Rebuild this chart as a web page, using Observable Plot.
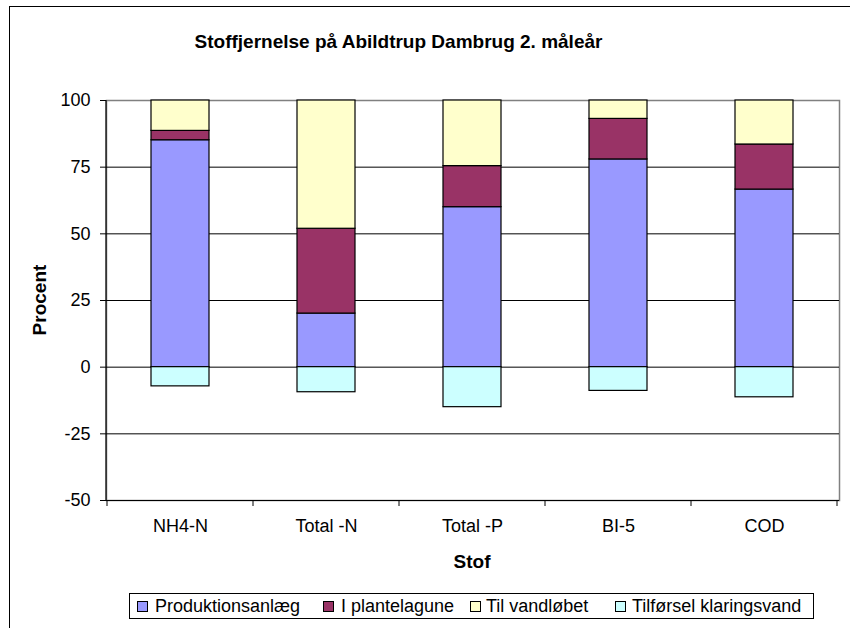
<!DOCTYPE html>
<html>
<head>
<meta charset="utf-8">
<script src="https://cdn.jsdelivr.net/npm/d3@7"></script>
<script src="https://cdn.jsdelivr.net/npm/@observablehq/plot@0.6"></script>
<style>
  html, body { margin: 0; padding: 0; background: #fff; }
  body { width: 850px; height: 628px; position: relative; overflow: hidden; font-family: "Liberation Sans", Arial, sans-serif; }
  #frame { position: absolute; left: 9px; top: 6px; width: 900px; height: 700px; border-left: 1px solid #000; border-top: 1px solid #000; }
  #title { position: absolute; left: 0; width: 797px; top: 31px; line-height: 22px; text-align: center; font-weight: bold; font-size: 19px; color: #000; }
  #ylabel { position: absolute; left: 40px; top: 300px; transform: translate(-50%, -50%) rotate(-90deg); font-weight: bold; font-size: 19px; white-space: nowrap; }
  #xlabel { position: absolute; left: 472px; top: 562px; transform: translate(-50%, -50%); font-weight: bold; font-size: 19px; white-space: nowrap; }
  #chart { position: absolute; left: 0; top: 0; }
  #legend { position: absolute; left: 129px; top: 593px; width: 685px; height: 26px; border: 1px solid #000; box-sizing: border-box; }
  .item { position: absolute; top: 0; height: 24px; font-size: 18px; line-height: 24px; white-space: nowrap; }
  .sw { position: absolute; top: 7px; width: 11px; height: 11px; border: 1px solid #000; box-sizing: border-box; }
</style>
</head>
<body>
<div id="frame"></div>
<div id="chart"></div>
<div id="title">Stoffjernelse på Abildtrup Dambrug 2. måleår</div>
<div id="ylabel">Procent</div>
<div id="xlabel">Stof</div>
<div id="legend"></div>
<script>
const stof = ["NH4-N", "Total -N", "Total -P", "BI-5", "COD"];
const serier = ["Produktionsanlæg", "I plantelagune", "Til vandløbet", "Tilførsel klaringsvand"];
const produktionsanlaeg = [85.1, 20.1, 60.0, 77.9, 66.6];
const plantelagune = [3.5, 31.8, 15.4, 15.2, 16.9];
const vandloebet = [11.4, 48.1, 24.6, 6.9, 16.5];
const tilfoersel = [-7.2, -9.4, -15.0, -8.9, -11.3];
const yTicks = [-50, -25, 0, 25, 50, 75, 100];
const farver = ["#9999FF", "#993366", "#FFFFCC", "#CCFFFF"];

const seriesValues = [produktionsanlaeg, plantelagune, vandloebet, tilfoersel];
const data = [];
stof.forEach((s, i) => {
  serier.forEach((serie, j) => {
    data.push({stof: s, serie, value: seriesValues[j][i]});
  });
});

const font = "Liberation Sans, Arial, sans-serif";
const plot = Plot.plot({
  width: 850,
  height: 580,
  marginTop: 100,
  marginBottom: 80,
  marginLeft: 106,
  marginRight: 11,
  style: {fontFamily: font, fontSize: "18px", color: "#000", background: "transparent", overflow: "visible"},
  x: {domain: stof, paddingInner: 0.6, paddingOuter: 0.3, label: null},
  y: {domain: [-50, 100], label: null},
  color: {domain: serier, range: farver},
  marks: [
    Plot.frame({stroke: "#808080", strokeWidth: 1.5}),
    Plot.ruleY(yTicks.filter(t => t < 100), {stroke: "#000", strokeWidth: 1}),
    Plot.barY(data, {x: "stof", y: "value", fill: "serie", stroke: "#000", strokeWidth: 1.2}),
    Plot.axisY({ticks: yTicks, tickFormat: d => String(d), tickSize: 6, tickPadding: 10, fontSize: 18, label: null, stroke: "#000"}),
    Plot.axisX({tickSize: 0, tickPadding: 19, fontSize: 18, label: null})
  ]
});
document.getElementById("chart").appendChild(plot);

// Category boundary ticks and left axis line, placed with the plot's own x/y scales
const xs = plot.scale("x");
const ys = plot.scale("y");
const svg = d3.select(plot);
const half = (xs.step - xs.bandwidth) / 2;
const bounds = stof.map(s => xs.apply(s) - half).concat([xs.apply(stof[stof.length - 1]) + xs.bandwidth + half]);
const yBottom = ys.apply(-50), yTop = ys.apply(100);
svg.append("g").selectAll("line").data(bounds).join("line")
  .attr("x1", d => d).attr("x2", d => d)
  .attr("y1", yBottom).attr("y2", yBottom + 6)
  .attr("stroke", "#000").attr("stroke-width", 1);
svg.append("line")
  .attr("x1", xs.range[0]).attr("x2", xs.range[0])
  .attr("y1", yTop).attr("y2", yBottom)
  .attr("stroke", "#000").attr("stroke-width", 1.2);

// Legend
const legendPos = [[7, 25], [193, 211], [340, 356], [485, 502]];
const legend = document.getElementById("legend");
serier.forEach((serie, i) => {
  const sw = document.createElement("div");
  sw.className = "sw";
  sw.style.left = legendPos[i][0] + "px";
  sw.style.background = farver[i];
  legend.appendChild(sw);
  const t = document.createElement("div");
  t.className = "item";
  t.style.left = legendPos[i][1] + "px";
  t.textContent = serie;
  legend.appendChild(t);
});
</script>
</body>
</html>
